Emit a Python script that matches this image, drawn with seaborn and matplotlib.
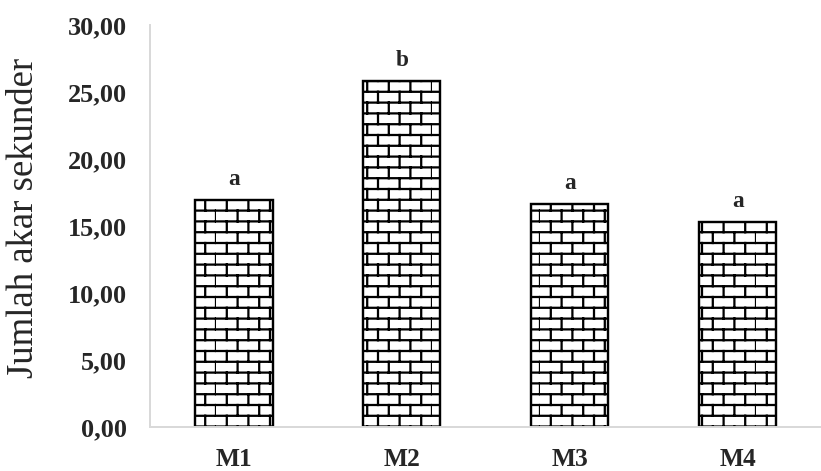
import numpy as np
import matplotlib
matplotlib.use("Agg")
import matplotlib.pyplot as plt
import matplotlib.hatch as mhatch
from matplotlib.path import Path
import seaborn as sns

# data
categories = ["M1", "M2", "M3", "M4"]
values = [16.95, 25.85, 16.63, 15.30]
letters = ["a", "b", "a", "a"]
yticks = [0, 5, 10, 15, 20, 25, 30]


# brick hatch: horizontal courses with staggered joints
class BrickHatch(mhatch.HatchPatternBase):
    def __init__(self, hatch, density):
        self.rows = 10 if "-" in hatch else 0
        self.cols = 5
        self.num_vertices = 2 * self.rows + 2 * self.rows * self.cols + 2 * self.cols

    def set_vertices_and_codes(self, vertices, codes):
        n, m = self.rows, self.cols
        segs = []
        for k in range(n):
            y0 = (k + 0.5) / n
            segs.append(((0.0, y0), (1.0, y0)))
            shift = 0.5 * (k % 2)
            for j in range(m):
                x = (j + 0.5 + shift) / m
                if k < n - 1:
                    segs.append(((x, y0), (x, y0 + 1.0 / n)))
                else:
                    segs.append(((x, y0), (x, 1.0)))
                    segs.append(((x, 0.0), (x, 0.5 / n)))
        pts = np.array(segs).reshape(-1, 2)
        vertices[:] = pts
        codes[0::2] = Path.MOVETO
        codes[1::2] = Path.LINETO


mhatch._hatch_types = [BrickHatch]

sns.set_style("white")
plt.rcParams["font.family"] = ["Liberation Serif", "DejaVu Serif"]
plt.rcParams["hatch.linewidth"] = 1.5
plt.rcParams["hatch.color"] = "black"

dpi = 108
fig = plt.figure(figsize=(821.5 / dpi, 471.5 / dpi), dpi=dpi)
ax = fig.add_axes([150 / 821, 44.3 / 471, 671 / 821, 401 / 471])

sns.barplot(x=categories, y=values, color="white", edgecolor="black",
            linewidth=1.6, width=0.46, hatch="-", saturation=1, ax=ax)

for i, (v, lab) in enumerate(zip(values, letters)):
    ax.annotate(lab, xy=(i, v), xytext=(0, 10.5), textcoords="offset points",
                ha="center", va="baseline", fontsize=15.5, fontweight="bold")

ax.set_xlim(-0.5, -0.5 + 671 / 170)
ax.set_ylim(0, 30)
ax.set_yticks(yticks)
ax.set_yticklabels([f"{t:.2f}".replace(".", ",") for t in yticks],
                   fontsize=17.5, fontweight="bold")
ax.set_xticks(range(len(categories)))
ax.set_xticklabels(categories, fontsize=17, fontweight="bold")
ax.set_xticks([-0.5, 0.5, 1.5, 2.5, 3.5], minor=True)

grey = "#d9d9d9"
sns.despine(ax=ax)
for side in ["left", "bottom"]:
    ax.spines[side].set_color(grey)
    ax.spines[side].set_linewidth(1.3)
ax.tick_params(axis="y", length=4.7, width=1.3, color=grey, pad=10.5)
ax.tick_params(axis="x", which="both", length=4.7, width=1.3, color=grey,
               pad=9)
ax.set_xlabel("")
ax.set_ylabel("Jumlah akar sekunder", fontsize=24.5)
ax.yaxis.set_label_coords(-0.1624, 0.5217)

fig.savefig("out.png", dpi=dpi)
